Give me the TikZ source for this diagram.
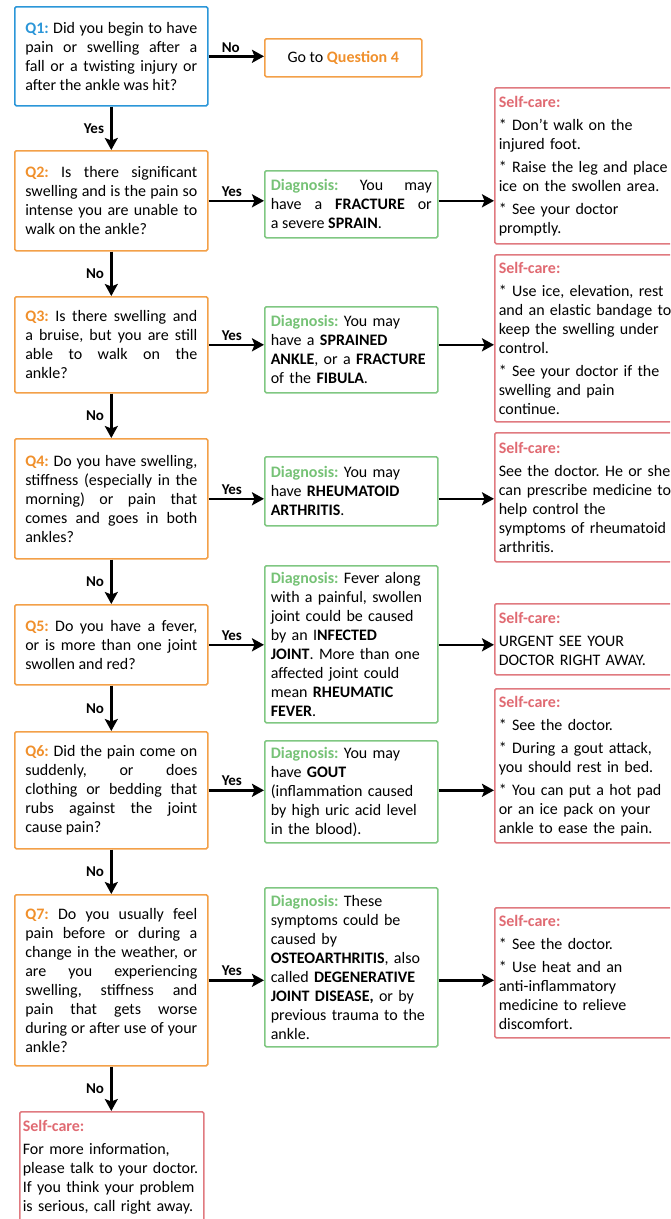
\documentclass[tikz,border=0pt]{standalone}
\usepackage{fontspec}
\setmainfont{Carlito}
\usetikzlibrary{arrows.meta}
\frenchspacing
\definecolor{qblue}{HTML}{2B96D8}
\definecolor{qorange}{HTML}{F3A048}
\definecolor{qorangetxt}{HTML}{F0902C}
\definecolor{dgreen}{HTML}{80C782}
\definecolor{dgreentxt}{HTML}{76C276}
\definecolor{sred}{HTML}{E07A80}
\definecolor{sredtxt}{HTML}{E06A72}
\newcommand{\qlab}[2]{\textbf{\textcolor{#1}{#2}}}
\newcommand{\diag}{\textbf{\textcolor{dgreentxt}{Diagnosis:}}}
\newcommand{\selfc}{\textbf{\textcolor{sredtxt}{Self-care:}}}
\tikzset{
  base/.style={rectangle, rounded corners=1.5pt, line width=1.6pt, inner ysep=0pt,
    font=\fontsize{16}{19}\selectfont,
    execute at begin node={\tolerance=10000\hbadness=10000\hyphenpenalty=10000\exhyphenpenalty=10000\parskip=0pt\frenchspacing}},
  qbox/.style={base, draw=qorange, text width=172pt, inner xsep=10.5pt, align=justify, anchor=north west},
  dbox/.style={base, draw=dgreen, text width=161pt, inner xsep=6pt, align=left, anchor=north west},
  dboxj/.style={base, draw=dgreen, text width=161pt, inner xsep=6pt, align=justify, anchor=north west},
  sbox/.style={base, draw=sred, text width=182pt, inner xsep=4pt, align=left, anchor=north west},
  arr/.style={line width=2.6pt, -{Stealth[length=12pt,width=13pt,inset=2.5pt]}},
  lab/.style={font=\fontsize{15}{18}\selectfont\bfseries, inner sep=2pt}
}
\begin{document}
\begin{tikzpicture}[x=1pt,y=-1pt]
\useasboundingbox (0,0) rectangle (670,1219);
\clip (0,0) rectangle (670,1219);
% questions
\node[qbox, draw=qblue, minimum height=99pt] (q1) at (14,6)
 {\qlab{qblue}{Q1:} Did you begin to have\linebreak pain or swelling after a\linebreak fall or a twisting injury or\linebreak after the ankle was hit?};
\node[base, draw=qorange, minimum width=157pt, minimum height=38pt, anchor=north west] (go) at (264,38)
 {Go to \qlab{qorangetxt}{Question 4}};
\node[qbox, minimum height=100pt] (q2) at (14,150)
 {\qlab{qorangetxt}{Q2:} Is there significant\linebreak swelling and is the pain so\linebreak intense you are unable to\linebreak walk on the ankle?};
\node[qbox, minimum height=96pt] (q3) at (14,296)
 {\qlab{qorangetxt}{Q3:} Is there swelling and\linebreak a bruise, but you are still\linebreak able to walk on the\linebreak ankle?};
\node[qbox, minimum height=120pt] (q4) at (14,438)
 {\qlab{qorangetxt}{Q4:} Do you have swelling,\linebreak stiffness (especially in the\linebreak morning) or pain that\linebreak comes and goes in both\linebreak ankles?};
\node[qbox, minimum height=80pt] (q5) at (14,604)
 {\qlab{qorangetxt}{Q5:} Do you have a fever,\linebreak or is more than one joint\linebreak swollen and red?};
\node[qbox, minimum height=117pt] (q6) at (14,731)
 {\qlab{qorangetxt}{Q6:} Did the pain come on\linebreak suddenly, or does\linebreak clothing or bedding that\linebreak rubs against the joint\linebreak cause pain?};
\node[qbox, minimum height=171pt] (q7) at (14,894)
 {\qlab{qorangetxt}{Q7:} Do you usually feel\linebreak pain before or during a\linebreak change in the weather, or\linebreak are you experiencing\linebreak swelling, stiffness and\linebreak pain that gets worse\linebreak during or after use of your\linebreak ankle?};
% diagnoses
\node[dboxj, minimum height=67pt] (d2) at (264,170)
 {\diag{} You may\linebreak have a \textbf{FRACTURE} or\linebreak a severe \textbf{SPRAIN}.};
\node[dbox, minimum height=86pt] (d3) at (264,306)
 {\diag{} You may\\ have a \textbf{SPRAINED}\\ \textbf{ANKLE}, or a \textbf{FRACTURE}\\ of the \textbf{FIBULA}.};
\node[dbox, minimum height=69pt] (d4) at (264,456)
 {\diag{} You may\\ have \textbf{RHEUMATOID}\\ \textbf{ARTHRITIS}.};
\node[dbox, minimum height=157pt] (d5) at (264,565)
 {\diag{} Fever along\\ with a painful, swollen\\ joint could be caused\\ by an I\textbf{NFECTED}\\ \textbf{JOINT}. More than one\\ affected joint could\\ mean \textbf{RHEUMATIC}\\ \textbf{FEVER}.};
\node[dbox, minimum height=102pt] (d6) at (264,740)
 {\diag{} You may\\ have \textbf{GOUT}\\ (inflammation caused\\ by high uric acid level\\ in the blood).};
\node[dbox, minimum height=159pt] (d7) at (264,887)
 {\diag{} These\\ symptoms could be\\ caused by\\ \textbf{OSTEOARTHRITIS}, also\\ called \textbf{DEGENERATIVE}\\ \textbf{JOINT DISEASE,} or by\\ previous trauma to the\\ ankle.};
% self-care
\node[sbox, minimum height=156pt] (s1) at (494,87)
 {\selfc\\[4pt] * Don't walk on the\\ injured foot.\\[4pt] * Raise the leg and place\\ ice on the swollen area.\\[4pt] * See your doctor\\ promptly.};
\node[sbox, minimum height=167pt] (s2) at (494,254)
 {\selfc\\[4pt] * Use ice, elevation, rest\\ and an elastic bandage to\\ keep the swelling under\\ control.\\[4pt] * See your doctor if the\\ swelling and pain\\ continue.};
\node[sbox, minimum height=129pt] (s3) at (494,432)
 {\selfc\\[4pt] See the doctor. He or she\\ can prescribe medicine to\\ help control the\\ symptoms of rheumatoid\\ arthritis.};
\node[sbox, minimum height=71pt] (s4) at (494,603)
 {\selfc\\[4pt] URGENT SEE YOUR\\ DOCTOR RIGHT AWAY.};
\node[sbox, minimum height=154pt] (s5) at (494,688)
 {\selfc\\[4pt] * See the doctor.\\[4pt] * During a gout attack,\\ you should rest in bed.\\[4pt] * You can put a hot pad\\ or an ice pack on your\\ ankle to ease the pain.};
\node[sbox, minimum height=130pt] (s6) at (494,907)
 {\selfc\\[4pt] * See the doctor.\\[4pt] * Use heat and an\\ anti-inflammatory\\ medicine to relieve\\ discomfort.};
\node[base, draw=sred, text width=178pt, inner xsep=3pt, align=left, anchor=north west, minimum height=110pt] (s7) at (19,1111)
 {\selfc\\[4pt] For more information,\\ please talk to your doctor.\\ If you think your problem\\ is serious, call right away.};
% connectors
\draw[arr] (q1.east) -- (q1.east -| go.west) node[lab, above, pos=0.4] {No};
\draw[arr] (q1.south) -- (q2.north) node[lab, left, midway, xshift=-4pt] {Yes};
\draw[arr] (q2.south) -- (q3.north) node[lab, left, midway, xshift=-4pt] {No};
\draw[arr] (q3.south) -- (q4.north) node[lab, left, midway, xshift=-4pt] {No};
\draw[arr] (q4.south) -- (q5.north) node[lab, left, midway, xshift=-4pt] {No};
\draw[arr] (q5.south) -- (q6.north) node[lab, left, midway, xshift=-4pt] {No};
\draw[arr] (q6.south) -- (q7.north) node[lab, left, midway, xshift=-4pt] {No};
\draw[arr] (q7.south) -- (q7.south |- s7.north) node[lab, left, midway, xshift=-4pt] {No};
\foreach \q/\d/\s in {q2/d2/s1, q3/d3/s2, q4/d4/s3, q5/d5/s4, q6/d6/s5, q7/d7/s6}{
  \draw[arr] (\q.east) -- (\q.east -| \d.west) node[lab, above, pos=0.42, yshift=1pt] {Yes};
  \draw[arr] (\q.east -| \d.east) -- (\q.east -| \s.west);
}
\end{tikzpicture}
\end{document}
